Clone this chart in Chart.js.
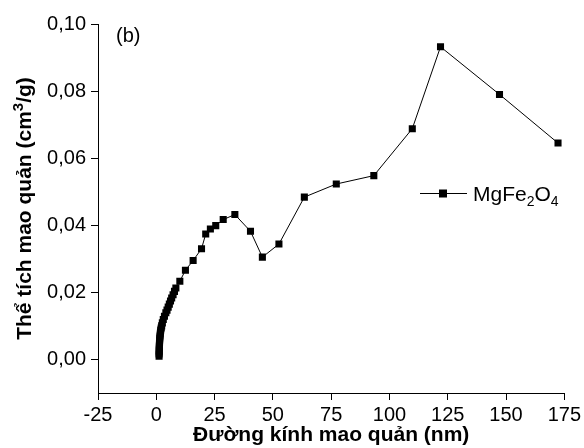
<!DOCTYPE html>
<html>
<head>
<meta charset="utf-8">
<script src="https://cdn.jsdelivr.net/npm/chart.js@4.4.1/dist/chart.umd.min.js"></script>
<style>
  html, body { margin: 0; padding: 0; background: #fff; }
  #wrap { width: 584px; height: 448px; }
</style>
</head>
<body>
<div id="wrap"><canvas id="grafico" width="584" height="448"></canvas></div>
<script>
// duong kinh mao quan (nm) va the tich mao quan (cm3/g), doc tu hinh
const duongKinh = [
    1.2, 1.2, 1.25, 1.25, 1.3, 1.3, 1.35, 1.4, 1.45, 1.5,
    1.6, 1.7, 1.8, 1.9, 2.1, 2.3, 2.6, 3.0, 3.5, 4.1,
    4.6, 5.1, 5.6, 6.1, 6.6, 7.2, 7.8, 8.4, 10.1, 12.5,
    15.8, 19.4, 21.2, 23.2, 25.5, 28.7, 33.7, 40.4, 45.5, 52.6,
    63.5, 77.2, 93.3, 109.8, 121.9, 147.2, 172.3
];
const theTich = [
    0.0010, 0.0016, 0.0022, 0.0028, 0.0034, 0.0040, 0.0046, 0.0052, 0.0058, 0.0064,
    0.0070, 0.0076, 0.0082, 0.0088, 0.0094, 0.0100, 0.0109, 0.0119, 0.0129, 0.0139,
    0.0147, 0.0156, 0.0165, 0.0174, 0.0183, 0.0193, 0.0203, 0.0213, 0.0233, 0.0266,
    0.0295, 0.0330, 0.0374, 0.0389, 0.0399, 0.0417, 0.0432, 0.0382, 0.0305, 0.0344,
    0.0484, 0.0523, 0.0548, 0.0688, 0.0932, 0.0790, 0.0645
];
const ticksX = [-25, 0, 25, 50, 75, 100, 125, 150, 175];
const ticksY = [0, 0.02, 0.04, 0.06, 0.08, 0.10];

const fuente = 'Liberation Sans, Arial, sans-serif';

// dibuja trozos de texto seguidos; [texto, fuente, desplazamiento vertical]
function textoPartes(ctx, partes, x, base) {
    partes.forEach(([t, f, dy]) => {
        ctx.font = f;
        ctx.fillText(t, x, base + dy);
        x += ctx.measureText(t).width;
    });
    return x;
}

// leyenda, etiqueta (b) y titulo Y dibujados a mano por los sub/superindices
const extras = {
    id: 'extras',
    afterDraw(chart) {
        const ctx = chart.ctx;
        ctx.save();
        ctx.fillStyle = '#000';
        ctx.textBaseline = 'alphabetic';
        ctx.font = '20px ' + fuente;
        ctx.fillText('(b)', 116, 42);

        // simbolo de la leyenda
        ctx.strokeStyle = '#000';
        ctx.lineWidth = 1;
        ctx.beginPath();
        ctx.moveTo(420, 193.5);
        ctx.lineTo(467, 193.5);
        ctx.stroke();
        ctx.fillRect(439, 189.5, 8, 8);

        textoPartes(ctx, [
            ['MgFe', '21px ' + fuente, 0],
            ['2', '14px ' + fuente, 5],
            ['O', '21px ' + fuente, 0],
            ['4', '14px ' + fuente, 5]
        ], 473, 201);

        // titulo del eje Y
        const b = 'bold ';
        const partesY = [
            ['Thể tích mao quản (cm', b + '21px ' + fuente, 0],
            ['3', b + '15px ' + fuente, -8],
            ['/g)', b + '21px ' + fuente, 0]
        ];
        let ancho = 0;
        partesY.forEach(([t, f]) => { ctx.font = f; ancho += ctx.measureText(t).width; });
        const area = chart.chartArea;
        ctx.translate(31, (area.top + area.bottom) / 2);
        ctx.rotate(-Math.PI / 2);
        textoPartes(ctx, partesY, -ancho / 2, 0);
        ctx.restore();
    }
};

const ctx = document.getElementById('grafico').getContext('2d');
new Chart(ctx, {
    type: 'line',
    data: {
        datasets: [{
            label: 'MgFe2O4',
            data: duongKinh.map((x, i) => ({ x: x, y: theTich[i] })),
            borderColor: '#000',
            backgroundColor: '#000',
            borderWidth: 1,
            pointStyle: 'rect',
            pointRadius: 5,
            pointBorderWidth: 0,
            pointBackgroundColor: '#000',
            tension: 0,
            fill: false
        }]
    },
    options: {
        responsive: false,
        animation: false,
        layout: { padding: { left: 0, right: 19, top: 24, bottom: 0 } },
        plugins: {
            legend: { display: false },
            tooltip: { enabled: false }
        },
        scales: {
            x: {
                type: 'linear',
                min: -25,
                max: 175,
                afterBuildTicks: s => { s.ticks = ticksX.map(v => ({ value: v })); },
                afterFit: s => { s.height = 55; },
                grid: { drawOnChartArea: false, drawTicks: true, tickLength: 7, color: '#000' },
                border: { display: true, color: '#000', width: 1 },
                ticks: { color: '#000', font: { family: fuente, size: 20 }, padding: 3, maxRotation: 0 },
                title: {
                    display: true,
                    text: 'Đường kính mao quản (nm)',
                    color: '#000',
                    font: { family: fuente, size: 21, weight: 'bold' },
                    padding: { top: 0, bottom: 0 }
                }
            },
            y: {
                type: 'linear',
                min: -0.01,
                max: 0.10,
                afterBuildTicks: s => { s.ticks = ticksY.map(v => ({ value: v })); },
                afterFit: s => { s.width = 98; },
                grid: { drawOnChartArea: false, drawTicks: true, tickLength: 7, color: '#000' },
                border: { display: true, color: '#000', width: 1 },
                ticks: {
                    color: '#000',
                    font: { family: fuente, size: 20 },
                    padding: 5,
                    callback: v => v.toFixed(2).replace('.', ',')
                },
                title: { display: false }
            }
        }
    },
    plugins: [extras]
});
</script>
</body>
</html>
